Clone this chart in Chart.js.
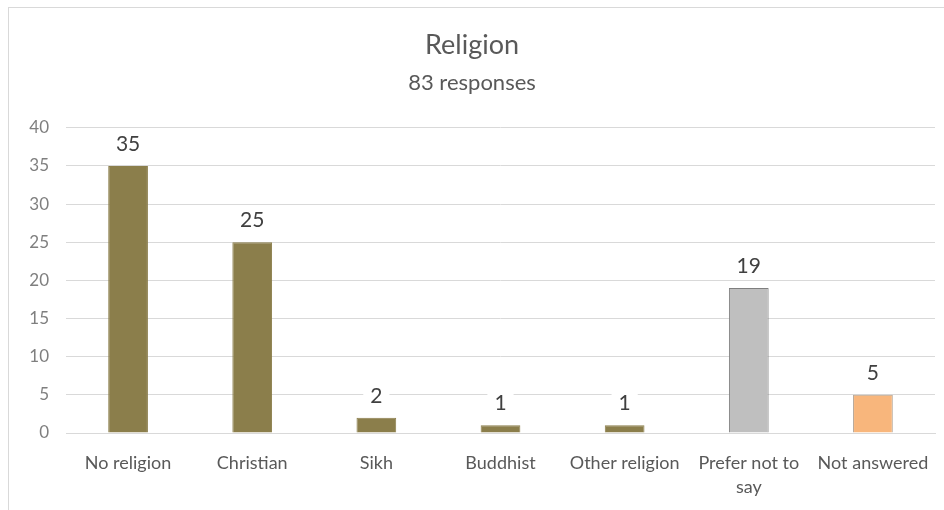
<!DOCTYPE html>
<html>
<head>
<meta charset="utf-8">
<script src="https://cdn.jsdelivr.net/npm/chart.js@4"></script>
<style>
  html, body { margin: 0; padding: 0; background: #fff; overflow: hidden; }
  #frame {
    position: absolute; left: 8px; top: 7px;
    width: 952px; height: 520px;
    border: 1px solid #d9d9d9; box-sizing: border-box;
  }
  #wrap { position: absolute; left: 0; top: 0; width: 950px; height: 518px; }
</style>
</head>
<body>
<div id="frame"><div id="wrap"><canvas id="grafico"></canvas></div></div>
<script>
const categorias = ["No religion", "Christian", "Sikh", "Buddhist", "Other religion", ["Prefer not to", "say"], "Not answered"];
const respostas = [35, 25, 2, 1, 1, 19, 5];
const coresBarra = ["#8b7e4b", "#8b7e4b", "#8b7e4b", "#8b7e4b", "#8b7e4b", "#bfbfbf", "#f8b67c"];
const coresBorda = ["#8b7e4b", "#8b7e4b", "#8b7e4b", "#8b7e4b", "#8b7e4b", "#7f7f7f", "#b0a090"];
const ticksY = [0, 5, 10, 15, 20, 25, 30, 35, 40];

const fonte = "Lato, 'Open Sans', sans-serif";

// numero em cima de cada barra, com fundo branco cortando a grade
const rotulos = {
    id: "rotulos",
    afterDatasetsDraw(chart){
        const ctx = chart.ctx;
        const meta = chart.getDatasetMeta(0);
        ctx.save();
        ctx.font = "21px " + fonte;
        ctx.textAlign = "center";
        ctx.textBaseline = "middle";
        meta.data.forEach((barra, i)=>{
            const txt = String(respostas[i]);
            const y = barra.y - 23;
            const w = ctx.measureText(txt).width + 14;
            ctx.fillStyle = "#fff";
            ctx.fillRect(barra.x - w/2, y - 12, w, 24);
            ctx.fillStyle = "#404040";
            ctx.fillText(txt, barra.x, y + 1);
        });
        ctx.restore();
    }
};

new Chart(document.getElementById("grafico"), {
    type: "bar",
    data: {
        labels: categorias,
        datasets: [{
            data: respostas,
            backgroundColor: coresBarra,
            borderColor: coresBorda,
            borderWidth: 1,
            barPercentage: 0.32,
            categoryPercentage: 1
        }]
    },
    options: {
        responsive: true,
        maintainAspectRatio: false,
        animation: false,
        layout: { padding: { top: 0, right: 24, left: 0, bottom: 0 } },
        plugins: {
            legend: { display: false },
            tooltip: { enabled: false },
            title: {
                display: true,
                text: "Religion",
                color: "#595959",
                font: { family: fonte, size: 27, weight: "normal" },
                padding: { top: 21, bottom: 8 }
            },
            subtitle: {
                display: true,
                text: "83 responses",
                color: "#595959",
                font: { family: fonte, size: 22, weight: "normal" },
                padding: { top: 0, bottom: 32 }
            }
        },
        scales: {
            x: {
                grid: { display: false, drawTicks: false },
                border: { display: true, color: "#d9d9d9" },
                ticks: {
                    color: "#595959",
                    font: { family: fonte, size: 18, lineHeight: 1.35 },
                    padding: 18,
                    maxRotation: 0,
                    autoSkip: false
                },
                afterFit(scale){ scale.height = 93; }
            },
            y: {
                min: 0,
                max: 40,
                afterBuildTicks(scale){ scale.ticks = ticksY.map(v=>({ value: v })); },
                grid: { color: "#d9d9d9", drawTicks: false },
                border: { display: false },
                ticks: {
                    color: "#7f7f7f",
                    font: { family: fonte, size: 17 },
                    padding: 17
                },
                afterFit(scale){ scale.width = 57; }
            }
        }
    },
    plugins: [rotulos]
});
</script>
</body>
</html>
